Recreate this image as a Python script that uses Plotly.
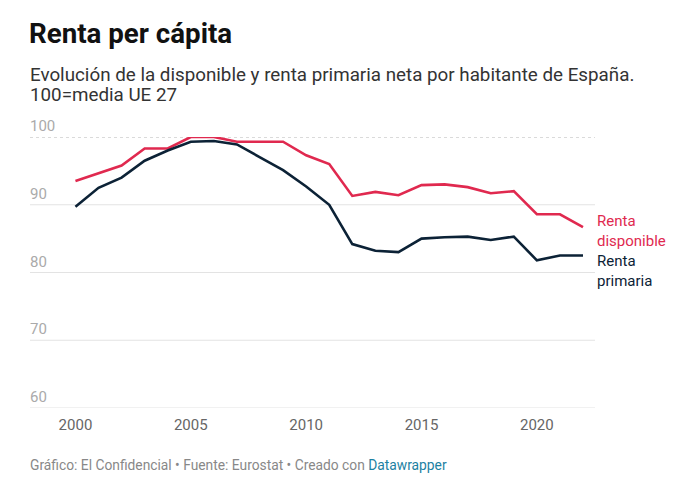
import plotly.graph_objects as go

# Datos (100 = media UE 27)
years = list(range(2000, 2023))
renta_disponible = [93.5, 94.7, 95.8, 98.3, 98.3, 100.0, 100.0, 99.3, 99.3, 99.3, 97.3, 96.0,
                    91.3, 91.9, 91.4, 92.9, 93.0, 92.6, 91.7, 92.0, 88.6, 88.6, 86.7]
renta_primaria = [89.7, 92.5, 94.0, 96.5, 98.0, 99.3, 99.4, 98.9, 97.0, 95.1, 92.7, 90.0,
                  84.2, 83.2, 83.0, 85.0, 85.2, 85.3, 84.8, 85.3, 81.8, 82.5, 82.5]
y_ticks = [60, 70, 80, 90, 100]
x_ticks = [2000, 2005, 2010, 2015, 2020]

RED = "#e0294f"
NAVY = "#0c2236"
FONT = "Roboto"

# la página añade ~8px de margen, así que la figura es algo más pequeña
W, H = 672, 492
PLOT_TOP, PLOT_BOTTOM = 129, 400
PLOT_H = PLOT_BOTTOM - PLOT_TOP


def paper_y(px):
    return (PLOT_BOTTOM - px) / PLOT_H


fig = go.Figure()

# líneas de referencia (100 punteada, el resto sólidas) y sus etiquetas encima
for v in y_ticks:
    fig.add_shape(type="line", xref="paper", yref="y", x0=0, x1=1, y0=v, y1=v,
                  line=dict(color="#b5b5b5" if v == 100 else "#e3e3e3",
                            width=1, dash="dot" if v == 100 else "solid"),
                  layer="below")
    fig.add_annotation(xref="paper", yref="y", x=0, y=v, text=str(v), showarrow=False,
                       xanchor="left", yanchor="bottom", xshift=-2, yshift=0,
                       font=dict(family=FONT, size=15, color="#aaaaaa"))

fig.add_trace(go.Scatter(x=years, y=renta_disponible, mode="lines", name="Renta disponible",
                         line=dict(color=RED, width=2.6), cliponaxis=False))
fig.add_trace(go.Scatter(x=years, y=renta_primaria, mode="lines", name="Renta primaria",
                         line=dict(color=NAVY, width=2.6), cliponaxis=False))

fig.add_annotation(x=years[-1], y=renta_disponible[-1], text="Renta<br>disponible",
                   showarrow=False, xanchor="left", yanchor="middle", align="left",
                   xshift=12, yshift=-4, font=dict(family=FONT, size=15, color=RED))
fig.add_annotation(x=years[-1], y=renta_primaria[-1], text="Renta<br>primaria",
                   showarrow=False, xanchor="left", yanchor="middle", align="left",
                   xshift=12, yshift=-15, font=dict(family=FONT, size=15, color=NAVY))

# subtítulo (dos líneas) y pie
subtitle = ["Evolución de la disponible y renta primaria neta por habitante de España.",
            "100=media UE 27"]
for line, px in zip(subtitle, [67, 87]):
    fig.add_annotation(xref="paper", yref="paper", x=0, y=paper_y(px), xanchor="left",
                       yanchor="middle", xshift=-2, align="left", showarrow=False, text=line,
                       font=dict(family=FONT, size=18.8, color="#333333"))
fig.add_annotation(xref="paper", yref="paper", x=0, y=paper_y(457), xanchor="left",
                   yanchor="middle", xshift=-2, align="left", showarrow=False,
                   text="Gráfico: El Confidencial • Fuente: Eurostat • Creado con "
                        "<span style='color:#1d81a2'>Datawrapper</span>",
                   font=dict(family=FONT, size=13.8, color="#888888"))

fig.update_layout(
    width=W, height=H,
    margin=dict(l=22, r=85, t=PLOT_TOP, b=H - PLOT_BOTTOM),
    paper_bgcolor="white", plot_bgcolor="white",
    showlegend=False,
    title=dict(text="<b>Renta per cápita</b>", x=21 / W, xanchor="left",
               y=1 - 25 / H, yanchor="middle",
               font=dict(family=FONT, size=27.7, color="#111111")),
    xaxis=dict(range=[1998.03, 2022.52], tickvals=x_ticks, showgrid=False, zeroline=False,
               showline=False, ticks="outside", ticklen=3, tickcolor="white",
               tickfont=dict(family=FONT, size=15, color="#666666")),
    yaxis=dict(range=[60, 100], tickvals=y_ticks, showticklabels=False, showgrid=False,
               zeroline=False, showline=False),
)

fig.write_html("out.html")
